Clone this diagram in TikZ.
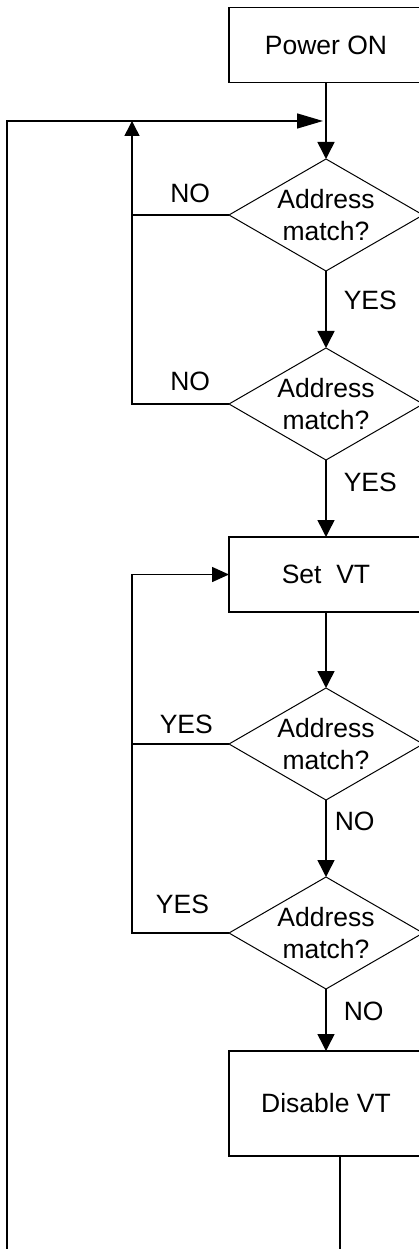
\documentclass[tikz,border=0pt]{standalone}
\usepackage{fontspec}
\setsansfont{Liberation Sans}
\usepackage{tkz-graph}
\usetikzlibrary{arrows.meta}
\usetikzlibrary{shapes}

\begin{document}
\begin{tikzpicture}[x = 1pt, y = -1pt, font=\sffamily\fontsize{26.5}{32}\selectfont]
	\useasboundingbox (0,0) rectangle (419,1249);
	\clip (0,0) rectangle (419,1249);
	\tikzstyle{VertexStyle} = []
	\tikzstyle{EdgeStyle} = [line width = 1.5pt, -{Triangle[length = 17pt, width = 17pt]}]
	\tikzstyle{LabelStyle} = [fill = none]
	\tikzstyle{boxStyle} = [shape = rectangle, draw, line width = 1.7pt, minimum width = 194pt, minimum height = 75pt]
	\tikzstyle{testStyle} = [shape = diamond, draw, line width = 1pt, aspect = 1.732, inner sep = 0pt, minimum width = 194pt, minimum height = 112pt, align = center]
	\tikzstyle{loopStyle} = [line width = 1.5pt]
	\Vertex[style = boxStyle, x = 326, y = 45, L = {Power ON}]{pw}
	\Vertex[style = testStyle, x = 326, y = 215, L = {Address\\match?}]{d1}
	\Vertex[style = testStyle, x = 326, y = 404, L = {Address\\match?}]{d2}
	\Vertex[style = boxStyle, x = 326, y = 574.5, L = {Set~~VT}]{sv}
	\Vertex[style = testStyle, x = 326, y = 744, L = {Address\\match?}]{d3}
	\Vertex[style = testStyle, x = 326, y = 933, L = {Address\\match?}]{d4}
	\Vertex[style = {boxStyle, minimum height = 105pt}, x = 326, y = 1103.5, L = {Disable VT}]{dv}
	\coordinate (topin) at (326,121);
	\coordinate (noup) at (132,121);
	\coordinate (bl) at (7,1290);
	\Edge(pw)(d1)
	\Edge[label = {YES}, labelstyle = {right = 13.7pt, pos = 0.38, fill = none}](d1)(d2)
	\Edge[label = {YES}, labelstyle = {right = 13.7pt, pos = 0.29, fill = none}](d2)(sv)
	\Edge(sv)(d3)
	\Edge[label = {NO}, labelstyle = {right = 4.7pt, pos = 0.28, fill = none}](d3)(d4)
	\Edge[label = {NO}, labelstyle = {right = 13.7pt, pos = 0.36, fill = none}](d4)(dv)
	% back to the top when the address does not match
	\draw[loopStyle] (d1.west) -- node[above = 7.7pt, pos = 0.4]{NO} (d1.west -| noup);
	\draw[loopStyle, -{Triangle[length = 15pt, width = 15pt]}] (d2.west) -- node[above = 8.7pt, pos = 0.4]{NO} (d2.west -| noup) -- (noup);
	% back to Set VT
	\draw[loopStyle] (d3.west) -- node[above = 6.4pt, pos = 0.44]{YES} (d3.west -| noup);
	\draw[loopStyle, -{Triangle[length = 17pt, width = 15pt]}] (d4.west) -- node[above = 14.7pt, pos = 0.48]{YES} (d4.west -| noup) |- (sv.west);
	% return path from Disable VT
	\draw[loopStyle, shorten > = 3pt, -{Triangle[length = 26pt, width = 15pt]}] ([xshift = 14pt]dv.south) |- (bl) |- (topin);
\end{tikzpicture}
\end{document}
